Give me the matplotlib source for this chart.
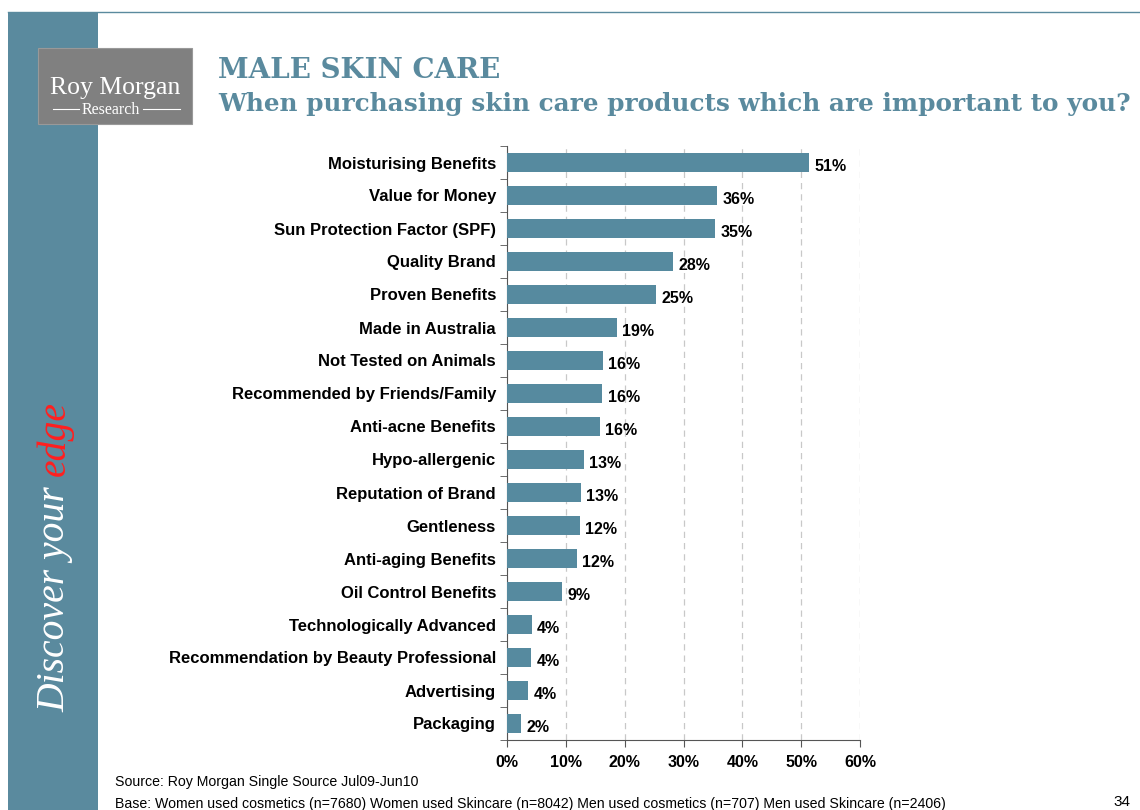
import numpy as np
import matplotlib
matplotlib.use("Agg")
import matplotlib.pyplot as plt
from matplotlib.patches import Rectangle
from matplotlib.lines import Line2D

plt.rcParams["font.family"] = ["Liberation Sans", "DejaVu Sans"]

# survey results, top to bottom
attributes = [
    "Moisturising Benefits", "Value for Money", "Sun Protection Factor (SPF)",
    "Quality Brand", "Proven Benefits", "Made in Australia",
    "Not Tested on Animals", "Recommended by Friends/Family", "Anti-acne Benefits",
    "Hypo-allergenic", "Reputation of Brand", "Gentleness",
    "Anti-aging Benefits", "Oil Control Benefits", "Technologically Advanced",
    "Recommendation by Beauty Professional", "Advertising", "Packaging",
]
shares = [51.4, 35.7, 35.4, 28.2, 25.3, 18.7, 16.3, 16.2, 15.8,
          13.1, 12.6, 12.4, 11.9, 9.4, 4.2, 4.1, 3.6, 2.4]
xticks = [0, 10, 20, 30, 40, 50, 60]

W, H = 1140, 810
teal = "#5A8A9E"
bar_col = "#568A9F"


def fx(px):
    return px / W


def fy(py):
    return 1 - py / H


fig = plt.figure(figsize=(W / 100, H / 100), dpi=100)
fig.patch.set_facecolor("white")

# side band and top rule
fig.add_artist(Rectangle((fx(8), 0), fx(98) - fx(8), fy(12), transform=fig.transFigure,
                         facecolor=teal, edgecolor="none"))
fig.add_artist(Line2D([fx(8), 1], [fy(12), fy(12)], transform=fig.transFigure,
                      color=teal, lw=1))

# logo block
fig.add_artist(Rectangle((fx(38), fy(124)), fx(192) - fx(38), fy(48) - fy(124),
                         transform=fig.transFigure, facecolor="#808080",
                         edgecolor="#999999", lw=0.8))
fig.text(fx(115), fy(88), "Roy Morgan", family="Liberation Serif", color="white",
         fontsize=18.5, ha="center", va="center")
fig.text(fx(111), fy(110), "Research", family="Liberation Serif", color="white",
         fontsize=11.5, ha="center", va="center")
for x0, x1 in [(53, 79), (143, 180)]:
    fig.add_artist(Line2D([fx(x0), fx(x1)], [fy(109), fy(109)],
                          transform=fig.transFigure, color="white", lw=0.8))

# headings
fig.text(fx(218), fy(70), "MALE SKIN CARE", family="DejaVu Serif", weight="bold",
         color=teal, fontsize=20, va="center")
fig.text(fx(218), fy(104), "When purchasing skin care products which are important to you?",
         family="DejaVu Serif", weight="bold", color=teal, fontsize=17.8, va="center")

# rotated tagline on the band
t1 = fig.text(fx(55), fy(712), "Discover your ", family="Liberation Serif", style="italic",
              color="white", fontsize=28.5, rotation=90, ha="center", va="bottom")
fig.canvas.draw()
bb = t1.get_window_extent()
fig.text(fx(55), bb.y1 / H, "edge", family="Liberation Serif", style="italic",
         color="#FF2020", fontsize=28.5, rotation=90, ha="center", va="bottom")

# bar chart
ax = fig.add_axes([fx(507), fy(740), fx(860) - fx(507), fy(146) - fy(740)])
y = np.arange(len(attributes))
ax.barh(y, shares, height=0.57, color=bar_col, zorder=3)
ax.set_ylim(len(attributes) - 0.5, -0.5)
ax.set_xlim(0, 60)
ax.set_yticks(y)
ax.set_yticklabels(attributes, fontsize=12, weight="bold")
ax.set_yticks(np.arange(-0.5, len(attributes)), minor=True)
ax.tick_params(axis="y", which="major", length=0, pad=8)
ax.tick_params(axis="y", which="minor", length=5, color="#555555", direction="out")
ax.set_xticks(xticks)
ax.set_xticklabels([f"{v}%" for v in xticks], fontsize=11.5, weight="bold")
ax.tick_params(axis="x", length=5, color="#555555", pad=6)
ax.grid(axis="x", color="#C8C8C8", linestyle=(0, (5, 4)), lw=0.9, zorder=0)
for s in ["top", "right"]:
    ax.spines[s].set_visible(False)
for s in ["left", "bottom"]:
    ax.spines[s].set_color("#555555")
for yi, v in zip(y, shares):
    ax.text(v + 0.9, yi + 0.12, f"{round(v):.0f}%", fontsize=11.5, weight="bold",
            va="center", ha="left", zorder=4)

# footnotes
fig.text(fx(115), fy(782), "Source: Roy Morgan Single Source Jul09-Jun10", fontsize=10.2,
         va="center")
fig.text(fx(115), fy(804),
         "Base: Women used cosmetics (n=7680) Women used Skincare (n=8042) "
         "Men used cosmetics (n=707) Men used Skincare (n=2406)", fontsize=10.2, va="center")
fig.text(fx(1130), fy(802), "34", fontsize=11, ha="right", va="center")

fig.savefig("out.png", dpi=100)
